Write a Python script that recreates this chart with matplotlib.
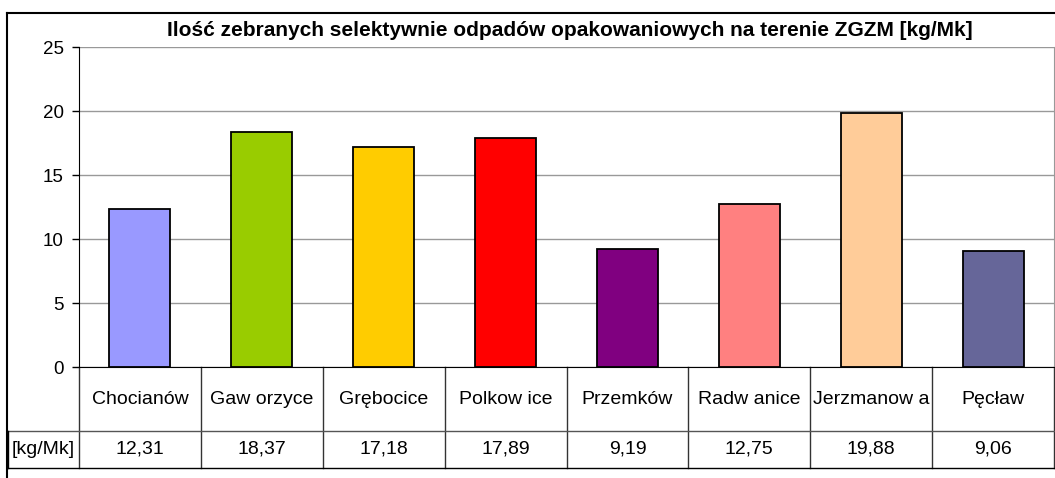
import matplotlib
matplotlib.use("Agg")
import matplotlib.pyplot as plt
import matplotlib.transforms as mtransforms
from matplotlib.lines import Line2D

plt.rcParams["font.family"] = ["Liberation Sans", "DejaVu Sans"]

title = "Ilość zebranych selektywnie odpadów opakowaniowych na terenie ZGZM [kg/Mk]"
gminy = ["Chocianów", "Gaw orzyce", "Grębocice", "Polkow ice", "Przemków",
         "Radw anice", "Jerzmanow a", "Pęcław"]
values = [12.31, 18.37, 17.18, 17.89, 9.19, 12.75, 19.88, 9.06]
row_label = "[kg/Mk]"
colors = ["#9999FF", "#99CC00", "#FFCC00", "#FF0000", "#800080",
          "#FF8080", "#FFCC99", "#666699"]
yticks = [0, 5, 10, 15, 20, 25]

W, H = 1055, 478
fig = plt.figure(figsize=(W / 100, H / 100), dpi=100)

# plot area in pixel terms
left, right, top, bottom = 79, 1054, 47, 367
ax = fig.add_axes([left / W, 1 - bottom / H, (right - left) / W, (bottom - top) / H])

x = range(len(gminy))
ax.bar(x, values, width=0.5, color=colors, edgecolor="black", linewidth=1.3, zorder=3)

ax.set_xlim(-0.5, len(gminy) - 0.5)
ax.set_ylim(0, 25)
ax.set_yticks(yticks)
ax.set_yticklabels([str(t) for t in yticks], fontsize=13.5)
ax.tick_params(axis="y", direction="out", length=5, width=1, pad=6)
ax.set_xticks([])
ax.grid(axis="y", color="#999999", linewidth=1, zorder=0)

ax.spines["top"].set_visible(False)
ax.spines["right"].set_color("#999999")
ax.spines["left"].set_color("black")
ax.spines["bottom"].set_color("black")

# data table below the axis
axh = bottom - top
row1 = -(431 - bottom) / axh
row2 = -(468 - bottom) / axh
trans = mtransforms.blended_transform_factory(ax.transData, ax.transAxes)
px_per_cat = (right - left) / len(gminy)
x_frame = -0.5 - (left - 8) / px_per_cat

for i in range(len(gminy) + 1):
    xb = i - 0.5
    ax.add_line(Line2D([xb, xb], [0, row2], transform=trans, color="#333333",
                       linewidth=1, clip_on=False))
ax.add_line(Line2D([x_frame, len(gminy) - 0.5], [row1, row1], transform=trans,
                   color="#555555", linewidth=1, clip_on=False))
ax.add_line(Line2D([x_frame, len(gminy) - 0.5], [row2, row2], transform=trans,
                   color="black", linewidth=1, clip_on=False))
ax.add_line(Line2D([x_frame, x_frame], [row1, row2], transform=trans,
                   color="black", linewidth=1, clip_on=False))

for i, (g, v) in enumerate(zip(gminy, values)):
    ax.text(i, row1 / 2, g, transform=trans, ha="center", va="center", fontsize=14)
    ax.text(i, (row1 + row2) / 2, f"{v:.2f}".replace(".", ","), transform=trans,
            ha="center", va="center", fontsize=14)
ax.text((x_frame - 0.5) / 2, (row1 + row2) / 2, row_label, transform=trans,
        ha="center", va="center", fontsize=14)

# outer chart frame
fig.add_artist(Line2D([7 / W, 1], [1 - 13 / H, 1 - 13 / H], color="black", linewidth=1.5))
fig.add_artist(Line2D([7 / W, 7 / W], [0, 1 - 13 / H], color="black", linewidth=1.5))

fig.text(570 / W, 1 - 31 / H, title, ha="center", va="center", fontsize=15,
         fontweight="bold")

fig.savefig("out.png", dpi=100, facecolor="white")
